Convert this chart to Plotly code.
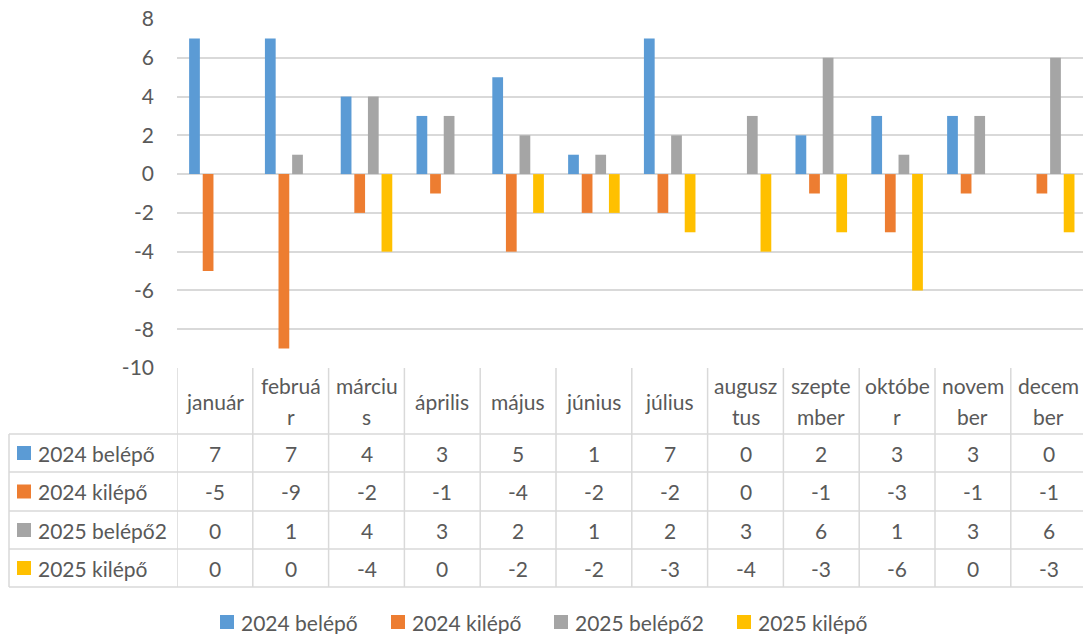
import plotly.graph_objects as go

# Monthly headcount movements
months = ["január", "február", "március", "április", "május", "június",
          "július", "augusztus", "szeptember", "október", "november", "december"]
header_labels = ["január", "februá<br>r", "márciu<br>s", "április", "május", "június",
                 "július", "augusz<br>tus", "szepte<br>mber", "októbe<br>r", "novem<br>ber", "decem<br>ber"]

series_names = ["2024 belépő", "2024 kilépő", "2025 belépő2", "2025 kilépő"]
belepo_2024 = [7, 7, 4, 3, 5, 1, 7, 0, 2, 3, 3, 0]
kilepo_2024 = [-5, -9, -2, -1, -4, -2, -2, 0, -1, -3, -1, -1]
belepo_2025 = [0, 1, 4, 3, 2, 1, 2, 3, 6, 1, 3, 6]
kilepo_2025 = [0, 0, -4, 0, -2, -2, -3, -4, -3, -6, 0, -3]
series_values = [belepo_2024, kilepo_2024, belepo_2025, kilepo_2025]
colors = ["#5B9BD5", "#ED7D31", "#A5A5A5", "#FFC000"]

y_ticks = [8, 6, 4, 2, 0, -2, -4, -6, -8, -10]

W, H = 1083, 634
PL, PR, PT, PB = 177, 0, 19, 266  # plot area margins
PW, PH = W - PL - PR, H - PT - PB

FONT = "Lato, 'Open Sans', sans-serif"
TXT = "#595959"
GRID = "#D9D9D9"
FS = 21


def px(xp):
    return (xp - PL) / PW


def py(yp):
    return (H - PB - yp) / PH


fig = go.Figure()
x_idx = list(range(len(months)))
for name, vals, col in zip(series_names, series_values, colors):
    fig.add_trace(go.Bar(x=x_idx, y=vals, name=name, marker_color=col,
                         marker_line_width=0, showlegend=False,
                         hovertext=months, hovertemplate="%{hovertext}: %{y}<extra>" + name + "</extra>"))

shapes = []
annotations = []

# data table geometry (pixels)
row_lines = [434, 472, 511, 549, 587]
top_line = 368
table_left = 9
col_edges = [i - 0.5 for i in range(len(months) + 1)]

line_style = dict(color=GRID, width=1.5)
# horizontal lines
for yl in row_lines:
    shapes.append(dict(type="line", xref="paper", yref="paper", x0=px(table_left), x1=1.02,
                       y0=py(yl), y1=py(yl), line=line_style, layer="below"))
# left edge of row headers
shapes.append(dict(type="line", xref="paper", yref="paper", x0=px(table_left), x1=px(table_left),
                   y0=py(row_lines[0]), y1=py(row_lines[-1]), line=line_style))
# column separators
for xe in col_edges:
    shapes.append(dict(type="line", xref="x", yref="paper", x0=xe, x1=xe,
                       y0=py(top_line), y1=py(row_lines[-1]), line=line_style))

# header cells
for i, lab in enumerate(header_labels):
    lines = lab.split("<br>")
    n = len(lines)
    for j, ln in enumerate(lines):
        yc = 401 + (j - (n - 1) / 2) * 30
        annotations.append(dict(x=i, y=py(yc), xref="x", yref="paper", text=ln,
                                showarrow=False, xanchor="center", yanchor="middle",
                                font=dict(family=FONT, size=FS, color=TXT)))

# value rows
for r, (name, vals, col) in enumerate(zip(series_names, series_values, colors)):
    yc = (row_lines[r] + row_lines[r + 1]) / 2
    shapes.append(dict(type="rect", xref="paper", yref="paper", x0=px(17), x1=px(31),
                       y0=py(yc - 7), y1=py(yc + 7), fillcolor=col, line_width=0))
    annotations.append(dict(x=px(36), y=py(yc), xref="paper", yref="paper", text=name,
                            showarrow=False, xanchor="left", yanchor="middle",
                            font=dict(family=FONT, size=FS, color=TXT)))
    for i, v in enumerate(vals):
        annotations.append(dict(x=i, y=py(yc), xref="x", yref="paper", text=str(v),
                                showarrow=False, xanchor="center", yanchor="middle",
                                font=dict(family=FONT, size=FS, color=TXT)))

# bottom legend
legend_x = [220, 391, 554, 737]
for name, col, lx in zip(series_names, colors, legend_x):
    shapes.append(dict(type="rect", xref="paper", yref="paper", x0=px(lx), x1=px(lx + 14),
                       y0=py(629), y1=py(615), fillcolor=col, line_width=0))
    annotations.append(dict(x=px(lx + 19), y=py(622), xref="paper", yref="paper", text=name,
                            showarrow=False, xanchor="left", yanchor="middle",
                            font=dict(family=FONT, size=FS, color=TXT)))

fig.update_layout(
    width=W, height=H,
    margin=dict(l=PL, r=PR, t=PT, b=PB, pad=0),
    paper_bgcolor="white", plot_bgcolor="white",
    barmode="group", bargap=0.282, bargroupgap=0.21,
    shapes=shapes, annotations=annotations,
    showlegend=False,
    font=dict(family=FONT, size=FS, color=TXT),
)
fig.update_xaxes(range=[-0.5, -0.5 + PW / 75.8], showticklabels=False, showgrid=False,
                 zeroline=False, showline=False, ticks="", fixedrange=True)
fig.update_yaxes(range=[-10, 8], tickvals=y_ticks, ticktext=[str(t) for t in y_ticks],
                 showgrid=True, gridcolor=GRID, gridwidth=1.5,
                 zeroline=True, zerolinecolor=GRID, zerolinewidth=1.5,
                 showline=False, ticks="", ticklabelstandoff=22,
                 tickfont=dict(family=FONT, size=FS, color=TXT), fixedrange=True)

fig.write_html("out.html", config={"displayModeBar": False})
